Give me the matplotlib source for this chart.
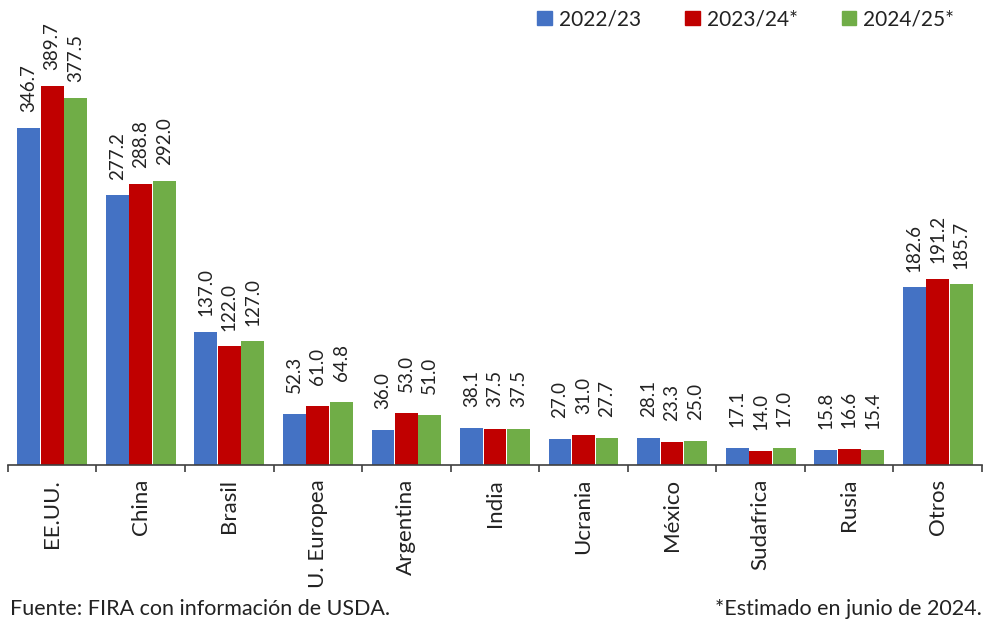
import numpy as np
import matplotlib
matplotlib.use('Agg')
import matplotlib.pyplot as plt
from matplotlib.patches import Patch

plt.rcParams['font.family'] = ['Lato', 'DejaVu Sans']

# Data
paises = ['EE.UU.', 'China', 'Brasil', 'U. Europea', 'Argentina', 'India',
          'Ucrania', 'México', 'Sudafrica', 'Rusia', 'Otros']
v_2223 = [346.7, 277.2, 137.0, 52.3, 36.0, 38.1, 27.0, 28.1, 17.1, 15.8, 182.6]
v_2324 = [389.7, 288.8, 122.0, 61.0, 53.0, 37.5, 31.0, 23.3, 14.0, 16.6, 191.2]
v_2425 = [377.5, 292.0, 127.0, 64.8, 51.0, 37.5, 27.7, 25.0, 17.0, 15.4, 185.7]
series = ['2022/23', '2023/24*', '2024/25*']
colores = ['#4472C4', '#C00000', '#70AD47']

fig = plt.figure(figsize=(9.86, 6.27), dpi=100)
ax = fig.add_axes([0.008, 0.2584, 0.988, 0.7416])

x = np.arange(len(paises))
w = 0.265
txt = '#222222'

for i, (vals, c) in enumerate(zip([v_2223, v_2324, v_2425], colores)):
    pos = x + (i - 1) * w
    ax.bar(pos, vals, width=w * 0.97, color=c, label=series[i])
    for px, v in zip(pos, vals):
        ax.annotate(f'{v:.1f}', (px, v), xytext=(0, 28.5), textcoords='offset points',
                    rotation=90, ha='center', va='center', fontsize=13.5, color=txt)

ax.set_xlim(-0.5, len(paises) - 0.5)
ax.set_ylim(0, 478)

for s in ['top', 'right', 'left']:
    ax.spines[s].set_visible(False)
ax.spines['bottom'].set_color('#404040')
ax.spines['bottom'].set_linewidth(1.2)
ax.set_yticks([])

ax.set_xticks(x)
ax.set_xticklabels(paises, rotation=90, fontsize=16, color=txt, va='top')
ax.tick_params(axis='x', which='major', length=0, pad=10)
ax.set_xticks(np.arange(-0.5, len(paises)), minor=True)
ax.tick_params(axis='x', which='minor', length=5, width=1.2, color='#404040', direction='out')

handles = [Patch(color=c) for c in colores]
fig.legend(handles, series, loc='upper right', bbox_to_anchor=(0.987, 1.015), ncol=3,
           frameon=False, fontsize=15, handlelength=0.7, handleheight=0.7,
           handletextpad=0.35, columnspacing=2.1, labelcolor=txt)

fig.text(0.01, 0.012, 'Fuente: FIRA con información de USDA.', fontsize=15.5, color=txt,
         ha='left', va='bottom')
fig.text(0.996, 0.012, '*Estimado en junio de 2024.', fontsize=15.5, color=txt,
         ha='right', va='bottom')

fig.savefig('out.png', dpi=100, facecolor='white')
